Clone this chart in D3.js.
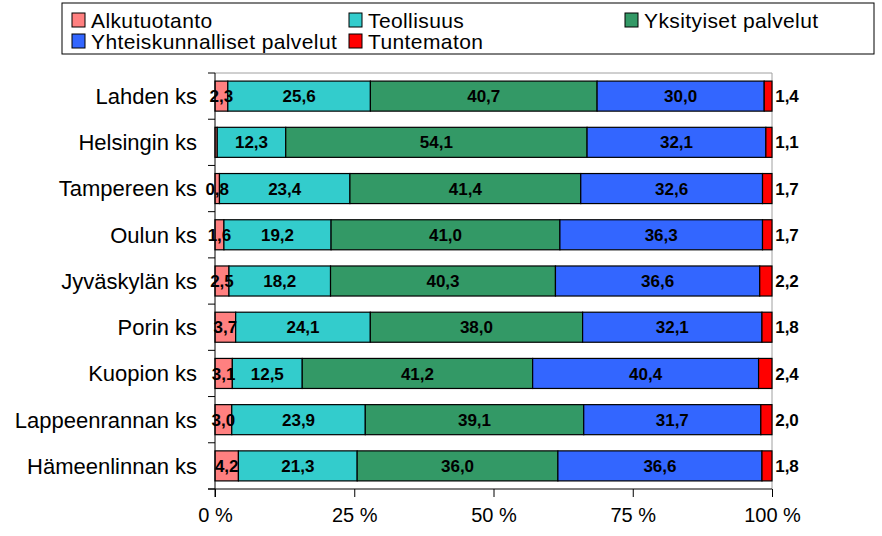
<!DOCTYPE html>
<html><head><meta charset="utf-8">
<script src="https://cdn.jsdelivr.net/npm/d3@7"></script>
<style>body{margin:0;background:#fff}svg{display:block;font-family:"Liberation Sans",Arial,sans-serif}</style>
</head><body>
<svg id="c" width="882" height="536"></svg>
<script>
const categories = ["Lahden ks","Helsingin ks","Tampereen ks","Oulun ks","Jyväskylän ks","Porin ks","Kuopion ks","Lappeenrannan ks","Hämeenlinnan ks"];
const seriesNames = ["Alkutuotanto","Teollisuus","Yksityiset palvelut","Yhteiskunnalliset palvelut","Tuntematon"];
const alkutuotanto = [2.3, 0.4, 0.8, 1.6, 2.5, 3.7, 3.1, 3.0, 4.2];
const teollisuus = [25.6, 12.3, 23.4, 19.2, 18.2, 24.1, 12.5, 23.9, 21.3];
const yksityiset = [40.7, 54.1, 41.4, 41.0, 40.3, 38.0, 41.2, 39.1, 36.0];
const yhteiskunnalliset = [30.0, 32.1, 32.6, 36.3, 36.6, 32.1, 40.4, 31.7, 36.6];
const tuntematon = [1.4, 1.1, 1.7, 1.7, 2.2, 1.8, 2.4, 2.0, 1.8];
const showFirstLabel = [true,false,true,true,true,true,true,true,true];
const tickValues = [0, 25, 50, 75, 100];
const tickLabels = ["0 %","25 %","50 %","75 %","100 %"];
const colors = ["#FF8080","#33CCCC","#339966","#3366FF","#FF0000"];

const series = [alkutuotanto, teollisuus, yksityiset, yhteiskunnalliset, tuntematon];
const svg = d3.select("#c");
const L = 215, R = 772, T = 73, B = 489;
const x = d3.scaleLinear().domain([0,100]).range([L,R]);
const y = d3.scaleBand().domain(categories).range([T,B]).paddingInner(0.35).paddingOuter(0.175);

svg.append("path").attr("d",`M${L},${T}H${R}V${B}`).attr("fill","none").attr("stroke","#a0a0a0").attr("stroke-width",1);

const fmt = v => v.toFixed(1).replace(".", ",");
const rows = categories.map((c,i) => {
  const vals = series.map(s => s[i]);
  const tot = d3.sum(vals);
  let acc = 0;
  return vals.map((v,k) => { const s0 = acc/tot*100; acc += v; return {c, i, k, v, x0:s0, x1:acc/tot*100}; });
});

const g = svg.append("g");
rows.forEach(segs => {
  segs.forEach(d => {
    g.append("rect").attr("x",x(d.x0)).attr("y",y(d.c)).attr("width",x(d.x1)-x(d.x0)).attr("height",y.bandwidth())
      .attr("fill",colors[d.k]).attr("stroke","#000").attr("stroke-width",1.2);
  });
});
rows.forEach(segs => {
  segs.forEach(d => {
    if (d.k===0 && !showFirstLabel[d.i]) return;
    const cx = d.k===4 ? x(100)+15 : (x(d.x0)+x(d.x1))/2;
    g.append("text").attr("x",cx).attr("y",y(d.c)+y.bandwidth()/2).attr("dy","0.36em")
      .attr("text-anchor","middle").attr("font-weight","bold").attr("font-size",17).attr("fill","#000").text(fmt(d.v));
  });
});

const ya = svg.append("g");
ya.append("line").attr("x1",L).attr("x2",L).attr("y1",T).attr("y2",B+8).attr("stroke","#000");
const step = (B-T)/categories.length;
d3.range(categories.length+1).forEach(j => {
  ya.append("line").attr("x1",L-7).attr("x2",L).attr("y1",T+j*step).attr("y2",T+j*step).attr("stroke","#000");
});
categories.forEach(c => {
  ya.append("text").attr("x",197).attr("y",y(c)+y.bandwidth()/2).attr("dy","0.36em").attr("text-anchor","end")
    .attr("font-size",22).attr("fill","#000").text(c);
});

const xa = svg.append("g").attr("transform",`translate(0,${B})`);
const xAxis = d3.axisBottom(x).tickValues(tickValues).tickSize(8).tickFormat((d,i)=>tickLabels[i]);
xa.call(xAxis);
xa.select(".domain").remove();
xa.append("line").attr("x1",L-7).attr("x2",R).attr("y1",0).attr("y2",0).attr("stroke","#000");
xa.selectAll(".tick line").attr("stroke","#000");
xa.selectAll(".tick text").attr("font-size",20).attr("font-family","Liberation Sans, Arial, sans-serif").attr("fill","#000").attr("y",26).attr("dy","0.36em");

const lg = svg.append("g");
lg.append("rect").attr("x",62).attr("y",3).attr("width",812).attr("height",51).attr("fill","#fff").attr("stroke","#000").attr("stroke-width",1);
const legPos = [[72,20],[349,20],[625,20],[72,41],[349,41]];
seriesNames.forEach((n,k) => {
  const [lx,ly] = legPos[k];
  lg.append("rect").attr("x",lx).attr("y",ly-7).attr("width",13).attr("height",14).attr("fill",colors[k]).attr("stroke","#000").attr("stroke-width",1);
  lg.append("text").attr("x",lx+19).attr("y",ly).attr("dy","0.36em").attr("font-size",21).attr("letter-spacing",0.4).attr("fill","#000").text(n);
});
</script>
</body></html>
